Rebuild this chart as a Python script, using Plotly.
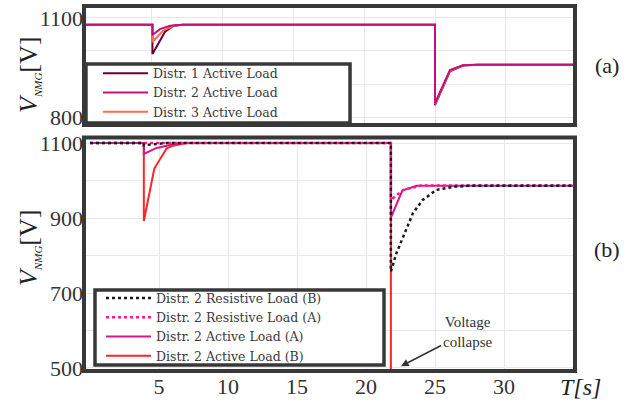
import plotly.graph_objects as go

# ---------------- data: panel (a) ----------------
t_a1 = [0, 5.1, 5.1, 5.99, 6.57, 7.25, 25.0, 25.0, 26.05, 26.97, 28.0, 35.0]
v_a1 = [1079, 1079, 991, 1058, 1076, 1079, 1079, 836, 938, 956, 958, 958]
t_a2 = [0, 5.1, 5.1, 5.63, 6.34, 7.2, 25.0, 25.0, 26.05, 26.97, 28.0, 35.0]
v_a2 = [1079, 1079, 1048, 1066, 1076, 1079, 1079, 842, 942, 957, 958, 958]
t_a3 = [0, 5.1, 5.1, 5.87, 6.57, 7.2, 25.0, 25.0, 26.05, 26.97, 28.0, 35.0]
v_a3 = [1079, 1079, 1027, 1062, 1076, 1079, 1079, 839, 940, 957, 958, 958]
names_a = ["Distr. 1 Active Load", "Distr. 2 Active Load", "Distr. 3 Active Load"]

# ---------------- data: panel (b) ----------------
t_resB = [0, 3.9, 3.9, 4.6, 5.5, 21.8, 21.8, 22.2, 22.7, 23.4, 24.1, 25.1, 26.3, 27.5, 29.0, 35.2]
v_resB = [1100, 1100, 1094, 1097, 1100, 1100, 757, 806, 850, 913, 948, 975, 983, 986, 986, 986]
t_resA = [0, 3.9, 3.9, 5.0, 21.8, 21.8, 22.7, 24.0, 35.2]
v_resA = [1100, 1100, 1098, 1100, 1100, 948, 975, 987, 987]
t_actA = [0, 3.9, 3.9, 4.83, 5.8, 6.5, 21.8, 21.8, 22.63, 23.67, 25.0, 35.2]
v_actA = [1100, 1100, 1071, 1087, 1095, 1100, 1100, 901, 973, 986, 986, 986]
t_actB = [0, 3.9, 3.9, 4.66, 5.56, 6.01, 7.0, 21.8, 21.8]
v_actB = [1100, 1100, 892, 1032, 1086, 1093, 1100, 1100, 0]
names_b = ["Distr. 2 Resistive Load (B)", "Distr. 2 Resistive Load (A)",
           "Distr. 2 Active Load (A)", "Distr. 2 Active Load (B)"]

xticks_b = [5, 10, 15, 20, 25, 30]
yticks_b = [500, 600, 700, 800, 900, 1000, 1100]
yticktext_b = ["500", "", "700", "", "900", "", "1100"]
yticks_a = [800, 900, 1000, 1100]
yticktext_a = ["800", "", "", "1100"]
xgrid_a = [5, 10, 15, 20, 25, 30]

SERIF = "Liberation Serif"
LEGSERIF = "DejaVu Serif"
FRAME = "#383838"
GRID = "#e8e8e8"

fig = go.Figure()

# panel (a) traces (drawn dark, orange, magenta; legend order 1,2,3)
fig.add_trace(go.Scatter(x=t_a1, y=v_a1, mode="lines", name=names_a[0],
                         line=dict(color="#6a0032", width=2), xaxis="x2", yaxis="y2",
                         legend="legend2", legendrank=1))
fig.add_trace(go.Scatter(x=t_a3, y=v_a3, mode="lines", name=names_a[2],
                         line=dict(color="#ff6a55", width=2), xaxis="x2", yaxis="y2",
                         legend="legend2", legendrank=3))
fig.add_trace(go.Scatter(x=t_a2, y=v_a2, mode="lines", name=names_a[1],
                         line=dict(color="#c2107e", width=2), xaxis="x2", yaxis="y2",
                         legend="legend2", legendrank=2))

# panel (b) traces
fig.add_trace(go.Scatter(x=t_actB, y=v_actB, mode="lines", name=names_b[3],
                         line=dict(color="#fa2525", width=2), legendrank=4))
fig.add_trace(go.Scatter(x=t_actA, y=v_actA, mode="lines", name=names_b[2],
                         line=dict(color="#d4168a", width=2), legendrank=3))
fig.add_trace(go.Scatter(x=t_resA, y=v_resA, mode="lines", name=names_b[1],
                         line=dict(color="#ff1a8c", width=2.5, dash="dot"), legendrank=2))
fig.add_trace(go.Scatter(x=t_resB, y=v_resB, mode="lines", name=names_b[0],
                         line=dict(color="#1a1a1a", width=2.5, dash="dot"), legendrank=1))

tickfont = dict(family=SERIF, size=22, color="#333")
legfont = dict(family=LEGSERIF, size=12.5, color="#3a3a3a")

common_ax = dict(zeroline=False, ticks="", showline=False, automargin=False,
                 showgrid=True, gridcolor=GRID)

fig.update_layout(
    width=636, height=408,
    margin=dict(l=84, r=61, t=6, b=37, autoexpand=False),
    paper_bgcolor="white", plot_bgcolor="white",
    showlegend=True,
    xaxis=dict(domain=[0, 1], range=[-0.435, 35.14], anchor="y",
               tickvals=xticks_b, tickfont=tickfont, **common_ax),
    yaxis=dict(domain=[0, 0.6397], range=[492, 1114.7], anchor="x",
               tickvals=yticks_b, ticktext=yticktext_b, tickfont=tickfont, **common_ax),
    xaxis2=dict(domain=[0, 1], range=[0.28, 34.86], anchor="y2",
                tickvals=xgrid_a, showticklabels=False, **common_ax),
    yaxis2=dict(domain=[0.674, 1], range=[776, 1136], anchor="x2",
                tickvals=yticks_a, ticktext=yticktext_a, tickfont=tickfont, **common_ax),
    legend=dict(x=0.0346, y=0.2400, xanchor="left", yanchor="top",
                bgcolor="rgba(0,0,0,0)", borderwidth=0, font=legfont,
                itemwidth=45, tracegroupgap=0),
    legend2=dict(x=0.0285, y=0.856, xanchor="left", yanchor="top",
                 bgcolor="rgba(0,0,0,0)", borderwidth=0, font=legfont,
                 itemwidth=45, tracegroupgap=0),
    shapes=[
        dict(type="rect", xref="x domain", yref="y domain", x0=0, x1=1, y0=0, y1=1,
             line=dict(color=FRAME, width=4), layer="above"),
        dict(type="rect", xref="x2 domain", yref="y2 domain", x0=0, x1=1, y0=0, y1=1,
             line=dict(color=FRAME, width=4), layer="above"),
        # legend boxes
        dict(type="rect", xref="paper", yref="paper", x0=0.0224, x1=0.611,
             y0=0.0164, y1=0.2219, fillcolor="white",
             line=dict(color=FRAME, width=3.5), layer="above"),
        dict(type="rect", xref="paper", yref="paper", x0=0.004, x1=0.5418,
             y0=0.6795, y1=0.8411, fillcolor="white",
             line=dict(color=FRAME, width=3.5), layer="above"),
    ],
)

ytitle = "<i>V</i><sub><span style='font-size:11px'><i>NMG</i></span></sub>[V]"
annots = [
    dict(text=ytitle, x=-0.112, y=0.811, xref="paper", yref="paper", textangle=-90,
         showarrow=False, font=dict(family=SERIF, size=26, color="#222"),
         xanchor="center", yanchor="middle"),
    dict(text=ytitle, x=-0.112, y=0.337, xref="paper", yref="paper", textangle=-90,
         showarrow=False, font=dict(family=SERIF, size=26, color="#222"),
         xanchor="center", yanchor="middle"),
    dict(text="(a)", x=1.065, y=0.838, xref="paper", yref="paper", showarrow=False,
         font=dict(family=SERIF, size=22, color="#222"), xanchor="center", yanchor="middle"),
    dict(text="(b)", x=1.065, y=0.332, xref="paper", yref="paper", showarrow=False,
         font=dict(family=SERIF, size=22, color="#222"), xanchor="center", yanchor="middle"),
    dict(text="<i>T[s]</i>", x=1.012, y=-0.044, xref="paper", yref="paper", showarrow=False,
         font=dict(family=SERIF, size=24, color="#222"), xanchor="center", yanchor="middle"),
    dict(text="Voltage<br>collapse", x=22.54, y=505, xref="x", yref="y",
         ax=66, ay=-34, showarrow=True, arrowhead=2, arrowsize=1, arrowwidth=1.5,
         arrowcolor="#333", font=dict(family=SERIF, size=15, color="#333")),
]
fig.update_layout(annotations=annots)

fig.write_html("out.html", config={"displayModeBar": False},
               post_script="document.body.style.margin='0';")
